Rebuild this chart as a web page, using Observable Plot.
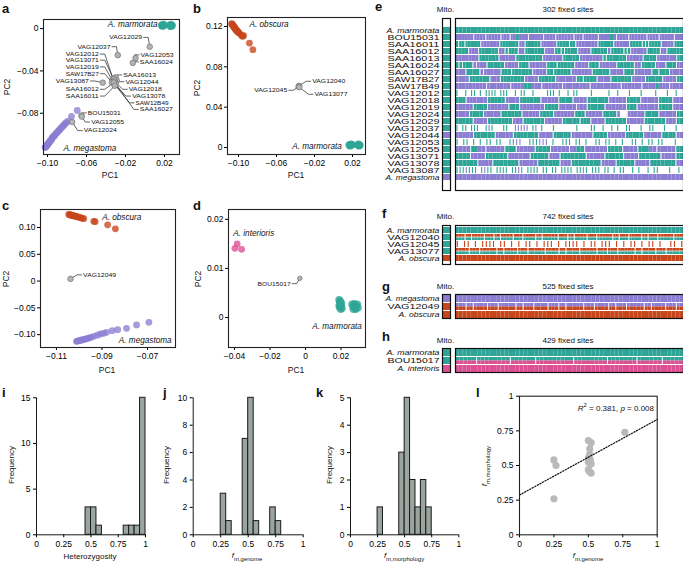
<!DOCTYPE html>
<html><head><meta charset="utf-8">
<script src="https://cdn.jsdelivr.net/npm/d3@7"></script>
<script src="https://cdn.jsdelivr.net/npm/@observablehq/plot@0.6"></script>
<style>
body{margin:0;background:#fff;font-family:"Liberation Sans",Arial,sans-serif;}
#fig{position:relative;width:683px;height:564px;overflow:hidden;background:#fff;}
.abs{position:absolute;white-space:nowrap;line-height:1;color:#111;}
.lett{font-weight:bold;font-size:13px;}
.ax{font-size:8.5px;}
.hd{font-size:8px;}
svg{overflow:visible;}
</style></head><body><div id="fig"></div><script>
// ---------------- DATA ----------------
const TEAL="#2ea596", PURP="#8a7dd2", ORNG="#c8461c", PINK="#dc4f93", GRAY="#b4b4b4";
// panel a
const aMarX=[0.0170,0.0176,0.0183,0.0189,0.0195,0.0180,0.0192,0.0186,0.0255,0.0261,0.0268,0.0274,0.0280,0.0264,0.0272,0.0258];
const aMarY=[0.0030,0.0036,0.0026,0.0033,0.0029,0.0022,0.0039,0.0031,0.0031,0.0037,0.0025,0.0033,0.0028,0.0021,0.0036,0.0027];
const aMegX=[-0.1025,-0.1020,-0.1015,-0.1010,-0.1005,-0.1000,-0.0995,-0.0990,-0.0985,-0.0980,-0.0975,-0.0970,-0.0960,-0.0955,-0.0950,-0.0940,-0.0930,-0.0920,-0.0910,-0.0900,-0.0890,-0.0880,-0.0870,-0.0860,-0.0850,-0.0840,-0.0830,-0.0820,-0.0810,-0.0790,-0.0754,-0.0695];
const aMegY=[-0.1125,-0.1120,-0.1115,-0.1110,-0.1105,-0.1095,-0.1090,-0.1085,-0.1080,-0.1070,-0.1065,-0.1060,-0.1050,-0.1040,-0.1030,-0.1020,-0.1015,-0.1000,-0.0990,-0.0980,-0.0970,-0.0960,-0.0950,-0.0940,-0.0930,-0.0920,-0.0910,-0.0900,-0.0890,-0.0875,-0.0829,-0.0774];
const aHybName=["VAG12029","VAG12053","SAA16024","VAG12037","VAG13087","SAA16013","VAG12044","VAG12018","VAG13078","SAW12B49","SAA16027","VAG12012","VAG13071","VAG12019","SAW17B27","SAA16012","SAA16011","BOU15031","VAG12055","VAG12024"];
const aHybX=[0.0049,-0.0097,-0.0125,-0.0279,-0.0433,-0.0300,-0.0290,-0.0310,-0.0320,-0.0310,-0.0300,-0.0330,-0.0320,-0.0330,-0.0340,-0.0320,-0.0310,-0.0651,-0.0648,-0.0747];
const aHybY=[-0.0171,-0.0279,-0.0324,-0.0251,-0.0511,-0.0460,-0.0490,-0.0500,-0.0520,-0.0530,-0.0520,-0.0470,-0.0480,-0.0500,-0.0510,-0.0510,-0.0540,-0.0822,-0.0832,-0.0883];
const aLabX=[-0.0029,-0.0046,-0.0053,-0.0354,-0.0576,-0.0224,-0.0200,-0.0166,-0.0131,-0.0097,-0.0053,-0.0474,-0.0474,-0.0474,-0.0474,-0.0474,-0.0474,-0.0587,-0.0552,-0.0628];
const aLabY=[-0.0083,-0.0248,-0.0314,-0.0171,-0.0495,-0.0438,-0.0502,-0.0574,-0.0638,-0.0702,-0.0764,-0.0241,-0.0298,-0.0362,-0.0426,-0.0574,-0.0638,-0.0797,-0.0883,-0.0964];
const aLabSide=["end","start","start","end","end","start","start","start","start","start","start","end","end","end","end","end","end","start","start","start"];
// panel b
const bObsX=[-0.1072,-0.1068,-0.1064,-0.1060,-0.1057,-0.1053,-0.1050,-0.1046,-0.1042,-0.1039,-0.1035,-0.1031,-0.1027,-0.1022,-0.1018,-0.1013,-0.1006,-0.0998,-0.0990,-0.0968,-0.0962,-0.0955,-0.0946,-0.0885,-0.0848];
const bObsY=[0.1228,0.1222,0.1218,0.1212,0.1208,0.1203,0.1198,0.1193,0.1188,0.1184,0.1178,0.1174,0.1168,0.1163,0.1158,0.1152,0.1146,0.1140,0.1132,0.1112,0.1106,0.1102,0.1110,0.1035,0.0970];
const bMarX=[0.0163,0.0170,0.0177,0.0184,0.0190,0.0195,0.0174,0.0187,0.0255,0.0261,0.0267,0.0273,0.0280,0.0264,0.0270];
const bMarY=[0.0024,0.0030,0.0020,0.0027,0.0022,0.0030,0.0016,0.0034,0.0024,0.0030,0.0019,0.0027,0.0022,0.0033,0.0016];
const bHybName=["VAG12040","VAG12045","VAG13077"];
const bHybX=[-0.0362,-0.0368,-0.0360]; const bHybY=[0.0612,0.0603,0.0598];
const bLabX=[-0.0224,-0.0487,-0.0200]; const bLabY=[0.0657,0.0568,0.0528];
const bLabSide=["start","end","start"];
// panel c
const cObsX=[-0.1046,-0.1042,-0.1038,-0.1034,-0.1030,-0.1026,-0.1022,-0.1018,-0.1013,-0.1008,-0.1003,-0.0998,-0.0992,-0.0986,-0.0980,-0.0936,-0.0930,-0.0875,-0.0841];
const cObsY=[0.1243,0.1238,0.1234,0.1229,0.1225,0.1221,0.1216,0.1212,0.1206,0.1200,0.1194,0.1188,0.1180,0.1172,0.1164,0.1115,0.1108,0.1050,0.0976];
const cMegX=[-0.1012,-0.1008,-0.1003,-0.0998,-0.0993,-0.0987,-0.0982,-0.0975,-0.0968,-0.0962,-0.0955,-0.0948,-0.0936,-0.0920,-0.0907,-0.0893,-0.0880,-0.0855,-0.0831,-0.0792,-0.0748,-0.0694];
const cMegY=[-0.1125,-0.1120,-0.1115,-0.1110,-0.1105,-0.1099,-0.1092,-0.1085,-0.1078,-0.1069,-0.1060,-0.1050,-0.1032,-0.1010,-0.0987,-0.0975,-0.0957,-0.0925,-0.0907,-0.0882,-0.0819,-0.0770];
const cHybName=["VAG12049"]; const cHybX=[-0.1038]; const cHybY=[0.0041];
const cLabX=[-0.0983]; const cLabY=[0.0116]; const cLabSide=["start"];
// panel d
const dIntX=[-0.0385,-0.0398,-0.0360]; const dIntY=[0.0150,0.0141,0.0139];
const dMarX=[0.0189,0.0193,0.0197,0.0201,0.0205,0.0192,0.0199,0.0203,0.0195,0.0190,0.0262,0.0268,0.0274,0.0280,0.0286,0.0292,0.0296,0.0270,0.0283,0.0277];
const dMarY=[0.0036,0.0031,0.0026,0.0022,0.0019,0.0021,0.0017,0.0029,0.0034,0.0025,0.0027,0.0022,0.0028,0.0019,0.0024,0.0027,0.0020,0.0017,0.0017,0.0025];
const dHybName=["BOU15017"]; const dHybX=[-0.0032]; const dHybY=[0.0080];
const dLabX=[-0.0084]; const dLabY=[0.0069]; const dLabSide=["end"];
// species labels per panel: [text, x, y, anchor]
const spA=[["A. marmorata",0.0128,0.0038,"end"],["A. megastoma",-0.0836,-0.1130,"start"]];
const spB=[["A. obscura",-0.0884,0.1220,"start"],["A. marmorata",-0.0435,0.0008,"start"]];
const spC=[["A. obscura",-0.0899,0.1193,"start"],["A. megastoma",-0.0826,-0.1099,"start"]];
const spD=[["A. interioris",-0.0407,0.0171,"start"],["A. marmorata",0.0038,-0.0018,"start"]];
// heat maps (each character = a block of sites; T teal, P purple, O orange, K pink,
// A = upper/lower two-tone block, . white (missing), lowercase = thin tick on white, | = white gap)
const eSites=302;
const eRows=["A. marmorata","BOU15031","SAA16011","SAA16012","SAA16013","SAA16024","SAA16027","SAW17B27","SAW17B49","VAG12012","VAG12018","VAG12019","VAG12024","VAG12029","VAG12037","VAG12044","VAG12053","VAG12055","VAG13071","VAG13078","VAG13087","A. megastoma"];
const eMito="TTTTTTTTTTTTTTTPTTTTTP";
const eGeno=[
"TTTTTTTTTTTTTTTTTTTTTTTTTTTTTTTTTTTTTTTTTTTTTTTTTTTTTTTTTTTT",
"PPPPPP|PPPP|PPPPP|PPP|PPTPPP|PPPPP|PPPP|PPPPPP|PPP|PPPPP|PPPPTP|PPPP|PPPPPP|PPPP|PPPPP|PPP",
"T|TT|TTTTT|PPPPPP|TTTTTT|PP|TTTTT|PPPPP|TTTT|TT|PPPPPPP|TTTTT|PPPPP|TTTT|T|T|TTTT|PPPP|TTT",
"TTTT|PPP|TTTTTT|PP|T|TTT|PP|TTTTTT|PPP|TT|T|TTTT|PPPP|TTTTT|P|TTTT|T|T|PPPPP|TTTT|PP|TTTTT",
"PPPPPPP|TTTTTT|PPPPP|TTTTTTTT|PPPPPP|TTTTT|PPPPPPP|T|TTTTTT|PPPPP|TTTT|PPPPPP|TT",
"T|T|TTT|P|PPP|TTTTT|PPPP|TTT|PPPPP|TTT|TTTTT|PPPP|TTT|PPPPP|TTTTT|PP|TTTT|PPP|TTT|PP",
"PPP|TTTT|P|PPPPP|TTT|TTTTTT|PPPP|TT|TTTTT|PPPPPP|TTTTT|PPPP|TTT|PPPPP|TT|TTT|PPPP",
"PPPP|TTTTTT|PPP|TTTTTTT|PPPP|TTTTT|PPPPPP|TT|TTTT|PPPP|TTTTTT|PPPP|TTTTT|PPPP|TT",
"PPPPPPPPP|PPPPPPP|PPPPTTPPP|PPPPPP|PPPPPPPP|PPPPPPPPP|PPPPPP|PPPPTPPP|PPPP",
"t..t.tt.t.tttt.ttt..t.tt..t....ttt.t..t.tt....t.....t..t...t...t....t...t..t..",
"TTT|PPPPPP|TTTTT|PPPP|TTTTTT|PPPPP|TTTT|PPPP|TTTTTT|PPPPP|TTTT|PPPPP|TTTT|PPP",
"PPPPP|TTTT|PPPPPP|TTT|PPPPPPP|TTTT|PPPPP|PPP|TTTTT|PPPPPP|TTT|PPPPPP|TTTT|PPP",
"PPPP|TTTT|PPPPP|TTTTTT|PPPPP|TTTT|PPPPPP|TTT|PPPPP|TTTT|P..|PPPPP|TTTT|PPPPP|TT",
"TTTTT|PPPP|TTTTTTT|PPP|TTTTTT|PPPPP|TTTTT|TTT|PPPP|TTTTTT|PPPPP|TTTTTT|PPP|TT",
"t.tt.ttt..tpt...tt..ppppp.tp.t...t.......t....tt..t..t.t..tt...t..tt...t...t..",
"PPPPP|TTTTTT|PPPPP|TTTTTTT|PPPP|TTTTT|PPPPPP|TTTT|PPPPP|TTTTT|PPPPP|TTTT|PP",
"t.tt.t.t.tt.tt..ttpp..tttppp.t..ttt.tt.t..tt.tt.t.t..tt.t.tt.tt...t..",
"PPPP|TTPP|PPPPP|TTT|PPPPP|TTTT|PPPPP|PPTT|PPPPPP|TTTT|PPPP|TTTPP|PPPPP|TT",
"TTTT|PPPP|TTTTTT|PPPPPP|TTTTT|PPP|TTTTTTT|PPPPP|TTTTT|PPPP|TTTTTT|PPPP|TT",
"TTTTTT|PPPP|TTTTTTT|PPPPP|TTTTTT|PPP|TTTTTTTT|PPPP|TTTTT|PPPP|TTTTTTT|PP",
"tttpttt.tptt.tttt.ttpt.tttt.tt.tt.tttt.ttpt.ttt.tt.t.tt..t.t..t.tt...t..t.",
"PPPPPPPPPPPPPPPPPPPPPPPPPPPPPPPPPPPPPPPPPPPPPPPPPPPPPPPPPPPP"];
const fSites=742;
const fRows=["A. marmorata","VAG12040","VAG12045","VAG13077","A. obscura"];
const fMito="TTTTO";
const fGeno=[
"TTTTTTTTTTTTTTTTTTTTTTTTTTTTTTTTTTTTTTTTTTTTTTTTTTTTTTTTTTTT",
"AAA|AA|AAAA|AAA|AA|AAAA|AAA|AAAA|AA|AAAAA|AAA|AA|AAAA|AAA|AAAAA|AA|AAA|AAAA|AA|AAA|AAAAA|AAA",
"o.oo.o.oooo.oo.o.o.oo.o.ooo.o.oooo.o.oo.ooo.o.o.oo.o.oo.o..oo.o",
"AAAA|AAA|AAAAA|AA|AAAA|AAA|AAAAA|AAAA|AA|AAAA|AAAAA|AAA|AAA|AAAAA|AA|AAAA|AAA|AAAAA",
"OOOOOOOOOOOOOOOOOOOOOOOOOOOOOOOOOOOOOOOOOOOOOOOOOOOOOOOOOOOO"];
const gSites=525;
const gRows=["A. megastoma","VAG12049","A. obscura"];
const gMito="POO";
const gGeno=[
"PPPPPPPPPPPPPPPPPPPPPPPPPPPPPPPPPPPPPPPPPPPPPPPPPPPPPPPPPPPP",
"AAA|AA|AAAA|AAA|AAAAA|AA|AAA|AAAA|AAA|AA|AAAAA|AAA|AAAA|AA|AAA|AAAAA|AA|AAAA|AAA|AA",
"OOOOOOOOOOOOOOOOOOOOOOOOOOOOOOOOOOOOOOOOOOOOOOOOOOOOOOOOOOOO"];
const hSites=429;
const hRows=["A. marmorata","BOU15017","A. interioris"];
const hMito="TTK";
const hGeno=[
"TTTTTTTTTTTTTTTTTTTTTTTTTTTTTTTTTTTTTTTTTTTTTTTTTTTTTTTTTTTT",
"AAAAA|AAAAAAAA|AAAAAA|AAAAAAAAA|AAAAAAAA|AAAAAAA|AAAAAA|AAAAA",
"KKKKKKKKKKKKKKKKKKKKKKKKKKKKKKKKKKKKKKKKKKKKKKKKKKKKKKKKKKKK"];
// widths (px) the row labels span in the reference
const labelWidth={"A. marmorata":53,"A. megastoma":54,"A. obscura":41,"A. interioris":42};
const idWidth=52, pcaIdWidth=33;
// histograms
const hetBin=[0.45,0.50,0.55,0.80,0.85,0.90,0.95]; const hetCount=[3,3,1,1,1,1,15];
const fmgBin=[0.25,0.30,0.45,0.50,0.55,0.70,0.75]; const fmgCount=[3,1,7,10,1,2,1];
const fmmBin=[0.25,0.45,0.50,0.55,0.60,0.65,0.70]; const fmmCount=[1,3,5,2,1,2,1];
const binW=0.05;
// scatter l
const lX=[0.25,0.265,0.25,0.50,0.52,0.51,0.51,0.50,0.515,0.50,0.52,0.50,0.51,0.52,0.765];
const lY=[0.54,0.50,0.26,0.68,0.665,0.62,0.58,0.555,0.54,0.525,0.51,0.47,0.455,0.445,0.74];
const regX=[0,1]; const regY=[0.287,0.832];

// ---------------- HELPERS ----------------
const FONT='"Liberation Sans",Arial,sans-serif';
const fig=document.getElementById("fig");
function place(node,l,t){node.style.position="absolute";node.style.left=l+"px";node.style.top=t+"px";fig.appendChild(node);return node;}
function txt(html,l,t,cls,st){const d=document.createElement("div");d.className="abs "+(cls||"");d.innerHTML=html;d.style.left=l+"px";d.style.top=t+"px";if(st)Object.assign(d.style,st);fig.appendChild(d);return d;}
function ctext(html,cx,cy,cls){return txt(html,cx,cy,cls,{transform:"translate(-50%,-50%)"});}
function rtext(html,cx,cy,cls){return txt(html,cx,cy,cls,{transform:"translate(-50%,-50%) rotate(-90deg)"});}
function stretch(node,sel,w){node.querySelectorAll(sel).forEach(t=>{const ww=typeof w==="function"?w(t.textContent):w;t.setAttribute("textLength",ww);t.setAttribute("lengthAdjust","spacingAndGlyphs");});}
const f2=d=>d===0?"0":d3.format(".2f")(d);
const fs=d=>String(d);
const zip=(xs,ys)=>xs.map((x,i)=>({x,y:ys[i]}));

function pca(o){
  const [L,T,Wd,Hd]=o.box,[fx0,fy0,fx1,fy1]=o.frame;
  const ux=(o.xd[1]-o.xd[0])/(fx1-fx0);
  const hyb=o.hyb.map((n,i)=>({n,x:o.hx[i],y:o.hy[i],lx:o.lx[i],ly:o.ly[i],side:o.side[i]}));
  const leaders=[];
  hyb.forEach(h=>{const s=h.side==="end"?1:-1;
    leaders.push({n:h.n,x:h.lx+s*1.5*ux,y:h.ly},{n:h.n,x:h.lx+s*6*ux,y:h.ly},{n:h.n,x:h.x,y:h.y});});
  const p=Plot.plot({width:Wd,height:Hd,marginLeft:fx0-L,marginRight:L+Wd-fx1,marginTop:fy0-T,marginBottom:T+Hd-fy1,
    style:{fontFamily:FONT,fontSize:"8.5px",background:"transparent",overflow:"visible"},
    x:{domain:o.xd,label:null},y:{domain:o.yd,label:null},
    marks:[
      ...o.groups.map(g=>Plot.dot(g.data,{x:"x",y:"y",r:g.r||3.4,fill:g.c,fillOpacity:0.78,stroke:"none"})),
      Plot.line(leaders,{x:"x",y:"y",z:"n",stroke:"#222",strokeWidth:0.7}),
      Plot.dot(hyb,{x:"x",y:"y",r:o.hr||2.8,fill:GRAY,stroke:"#666",strokeWidth:0.6}),
      Plot.text(hyb.filter(h=>h.side==="end"),{x:"lx",y:"ly",text:"n",textAnchor:"end",fontSize:5.9,fill:"#111",className:"hid"}),
      Plot.text(hyb.filter(h=>h.side==="start"),{x:"lx",y:"ly",text:"n",textAnchor:"start",fontSize:5.9,fill:"#111",className:"hid"}),
      ...o.sp.map(s=>Plot.text([s],{x:d=>d[1],y:d=>d[2],text:d=>d[0],textAnchor:s[3],fontStyle:"italic",fontSize:8.2,fill:"#111"})),
      Plot.axisX({ticks:o.xt,tickFormat:f2,tickSize:3,tickPadding:2,label:null,fontSize:8.5}),
      Plot.axisY({ticks:o.yt,tickFormat:f2,tickSize:3,tickPadding:2,label:null,fontSize:8.5}),
      Plot.frame({stroke:"#222",strokeWidth:1.1})
    ]});
  stretch(p,".hid text",pcaIdWidth);
  place(p,L,T);
}

function hist(o){
  const [L,T,Wd,Hd]=o.box,[fx0,fy0,fx1,fy1]=o.frame;
  const bars=o.bins.map((b,i)=>({x1:b,x2:b+binW,y:o.counts[i]}));
  const p=Plot.plot({width:Wd,height:Hd,marginLeft:fx0-L,marginRight:L+Wd-fx1,marginTop:fy0-T,marginBottom:T+Hd-fy1,
    style:{fontFamily:FONT,fontSize:"8.5px",background:"transparent",overflow:"visible"},
    x:{domain:[0,1],label:null},y:{domain:[0,o.ymax],label:null},
    marks:[
      Plot.rectY(bars,{x1:"x1",x2:"x2",y:"y",fill:"#9ba59f",stroke:"#1a1a1a",strokeWidth:1,insetLeft:0,insetRight:0}),
      Plot.ruleY([0],{stroke:"#1a1a1a",strokeWidth:1}),
      Plot.ruleX([0],{y1:0,y2:o.ymax,stroke:"#1a1a1a",strokeWidth:1}),
      Plot.axisX({ticks:[0,0.25,0.5,0.75,1],tickFormat:fs,tickSize:3,tickPadding:3,label:null,fontSize:8.5}),
      Plot.axisY({ticks:o.yt,tickFormat:fs,tickSize:3,tickPadding:3,label:null,fontSize:8.5})
    ]});
  place(p,L,T);
}

const colorOf={T:TEAL,P:PURP,O:ORNG,K:PINK,t:TEAL,p:PURP,o:ORNG,k:PINK};
function heat(o){
  const nR=o.rows.length, gx0=455, gx1=683, gy0=o.top, gy1=o.bottom;
  const pad=0.13, rowH=(gy1-gy0)/nR, bw=rowH*(1-pad);
  const full=[],top=[],bot=[],ticks=[],gaps=[];
  o.geno.forEach((s,r)=>{
    const row=o.rows[r]; let n=0; for(const ch of s) if(ch!=="|") n++;
    let i=0;
    for(const ch of s){
      if(ch==="|"){gaps.push({row,x:i/n*o.sites});continue;}
      const x1=i/n*o.sites,x2=(i+1)/n*o.sites;
      if("TPOK".includes(ch)) full.push({row,x1,x2,c:colorOf[ch]});
      else if(ch==="A"){top.push({row,x1,x2,c:o.upper});bot.push({row,x1,x2,c:o.lower});}
      else if(ch!=="."){ticks.push({row,x:(x1+x2)/2,c:colorOf[ch]});}
      i++;
    }
  });
  const yopt={type:"band",domain:o.rows,paddingInner:pad,paddingOuter:pad/2,axis:null};
  const grid=Plot.plot({width:gx1-gx0,height:gy1-gy0,margin:0,style:{background:"#fff",overflow:"visible"},
    x:{domain:[0,o.sites],axis:null},y:yopt,
    marks:[
      Plot.barX(full,{x1:"x1",x2:"x2",y:"row",fill:"c"}),
      Plot.barX(top,{x1:"x1",x2:"x2",y:"row",fill:"c",insetBottom:bw/2}),
      Plot.barX(bot,{x1:"x1",x2:"x2",y:"row",fill:"c",insetTop:bw/2}),
      Plot.tickX(ticks,{x:"x",y:"row",stroke:"c",strokeWidth:1.1}),
      Plot.tickX(gaps,{x:"x",y:"row",stroke:"#fff",strokeWidth:0.9}),
      Plot.frame({stroke:"#111",strokeWidth:1.2})
    ]});
  place(grid,gx0,gy0);
  const mito=Plot.plot({width:8,height:gy1-gy0,margin:0,style:{background:"#fff",overflow:"visible"},
    x:{domain:[0,1],axis:null},y:yopt,
    marks:[Plot.barX(o.rows.map((r,i)=>({row:r,c:colorOf[o.mito[i]]})),{x1:0,x2:1,y:"row",fill:"c"}),
      Plot.frame({stroke:"#111",strokeWidth:1.2})]});
  place(mito,441.5,gy0);
  const labs=Plot.plot({width:60,height:gy1-gy0,margin:0,style:{background:"transparent",overflow:"visible",fontFamily:FONT},
    x:{domain:[0,1],axis:null},y:yopt,
    marks:[
      Plot.text(o.rows.filter(r=>r.startsWith("A. ")),{x:1,y:d=>d,text:d=>d,textAnchor:"end",fontStyle:"italic",fontSize:6.9,fill:"#111",className:"spn"}),
      Plot.text(o.rows.filter(r=>!r.startsWith("A. ")),{x:1,y:d=>d,text:d=>d,textAnchor:"end",fontSize:6.9,fill:"#111",className:"sid"})
    ]});
  stretch(labs,".sid text",idWidth);
  stretch(labs,".spn text",s=>labelWidth[s]);
  place(labs,379,gy0);
  ctext("Mito.",445.5,o.ty,"hd");
  ctext(o.sites+" fixed sites",568,o.ty,"hd");
}

// ---------------- PANELS ----------------
pca({box:[0,0,185,180],frame:[43,19,179,154],xd:[-0.1041,0.0354],yd:[-0.119,0.0086],xt:[-0.10,-0.06,-0.02,0.02],yt:[-0.08,-0.04,0],
  groups:[{data:zip(aMarX,aMarY),c:TEAL,r:3.6},{data:zip(aMegX,aMegY),c:PURP,r:3.4}],
  hyb:aHybName,hx:aHybX,hy:aHybY,lx:aLabX,ly:aLabY,side:aLabSide,sp:spA});
pca({box:[185,0,185,180],frame:[227,17,365,154],xd:[-0.1116,0.0337],yd:[-0.0069,0.1289],xt:[-0.10,-0.06,-0.02,0.02],yt:[0,0.04,0.08,0.12],
  groups:[{data:zip(bMarX,bMarY),c:TEAL,r:3.6},{data:zip(bObsX,bObsY),c:ORNG,r:3.4}],
  hyb:bHybName,hx:bHybX,hy:bHybY,lx:bLabX,ly:bLabY,side:bLabSide,sp:spB});
pca({box:[0,195,185,180],frame:[40,209,175,347],xd:[-0.117,-0.0577],yd:[-0.124,0.1336],xt:[-0.11,-0.09,-0.07],yt:[-0.10,-0.05,0,0.05,0.10],
  groups:[{data:zip(cObsX,cObsY),c:ORNG,r:3.4},{data:zip(cMegX,cMegY),c:PURP,r:3.4}],
  hyb:cHybName,hx:cHybX,hy:cHybY,lx:cLabX,ly:cLabY,side:cLabSide,sp:spC});
pca({box:[185,195,185,180],frame:[228,209,365,347],xd:[-0.0434,0.0338],yd:[-0.0061,0.0220],xt:[-0.04,-0.02,0,0.02],yt:[0,0.01,0.02],
  groups:[{data:zip(dMarX,dMarY),c:TEAL,r:3.8},{data:zip(dIntX,dIntY),c:PINK,r:3.4}],
  hyb:dHybName,hx:dHybX,hy:dHybY,lx:dLabX,ly:dLabY,side:dLabSide,sp:spD,hr:2.3});

heat({rows:eRows,geno:eGeno,mito:eMito,sites:eSites,top:18,bottom:190,ty:10,upper:TEAL,lower:PURP});
heat({rows:fRows,geno:fGeno,mito:fMito,sites:fSites,top:225,bottom:264,ty:217,upper:ORNG,lower:TEAL});
heat({rows:gRows,geno:gGeno,mito:gMito,sites:gSites,top:294,bottom:318,ty:287,upper:PURP,lower:ORNG});
heat({rows:hRows,geno:hGeno,mito:hMito,sites:hSites,top:348,bottom:372,ty:341,upper:TEAL,lower:PINK});

hist({box:[0,385,150,170],frame:[36,397.3,145,534.3],bins:hetBin,counts:hetCount,ymax:15,yt:[0,5,10,15]});
hist({box:[175,385,135,170],frame:[192.7,397.3,302.7,534.3],bins:fmgBin,counts:fmgCount,ymax:10,yt:[0,2,4,6,8,10]});
hist({box:[330,385,135,170],frame:[350,397.3,458.3,534.3],bins:fmmBin,counts:fmmCount,ymax:5,yt:[0,1,2,3,4,5]});

// panel l
(function(){
  const L=495,T=385,Wd=170,Hd=170,fx0=519,fy0=395.7,fx1=656.7,fy1=534.3;
  const p=Plot.plot({width:Wd,height:Hd,marginLeft:fx0-L,marginRight:L+Wd-fx1,marginTop:fy0-T,marginBottom:T+Hd-fy1,
    style:{fontFamily:FONT,fontSize:"8.5px",background:"transparent",overflow:"visible"},
    x:{domain:[0,1],label:null},y:{domain:[0,1],label:null},
    marks:[
      Plot.dot(zip(lX,lY),{x:"x",y:"y",r:3.6,fill:"#b9b9b9",stroke:"none"}),
      Plot.line(zip(regX,regY),{x:"x",y:"y",stroke:"#111",strokeWidth:1.2,strokeDasharray:"1.3,1.6"}),
      Plot.axisX({ticks:[0,0.25,0.5,0.75,1],tickFormat:fs,tickSize:3,tickPadding:3,label:null,fontSize:8.5}),
      Plot.axisY({ticks:[0,0.25,0.5,0.75,1],tickFormat:fs,tickSize:3,tickPadding:3,label:null,fontSize:8.5}),
      Plot.frame({stroke:"#222",strokeWidth:1.1})
    ]});
  place(p,L,T);
})();

// ---------------- TEXT ----------------
[["a",2,2],["b",193,2],["c",2,199],["d",193,199],["e",375,0],["f",382,207],["g",382,280],["h",382,330],["i",2,386],["j",163,386],["k",316,386],["l",476,386]]
  .forEach(([s,x,y])=>txt(s,x,y,"lett"));
ctext("PC1",110,175,"ax"); rtext("PC2",7,87,"ax");
ctext("PC1",296,175,"ax"); rtext("PC2",197,88,"ax");
ctext("PC1",107,370,"ax"); rtext("PC2",6,279,"ax");
ctext("PC1",296,370,"ax"); rtext("PC2",198,279,"ax");
ctext("Heterozygosity",90,557,"hd");
ctext("<i>f</i><sub style='font-size:6px'>m,genome</sub>",247,557,"hd");
ctext("<i>f</i><sub style='font-size:6px'>m,morphology</sub>",404,557,"hd");
ctext("<i>f</i><sub style='font-size:6px'>m,genome</sub>",588,557,"hd");
rtext("Frequency",12,465,"hd"); rtext("Frequency",167,465,"hd"); rtext("Frequency",330,465,"hd");
rtext("<i>f</i><sub style='font-size:6px'>m,morphology</sub>",486,466,"hd");
txt("<i>R</i><sup style='font-size:6px'>2</sup> = 0.381, <i>p</i> = 0.008",654,402,"hd",{transform:"translateX(-100%)"});
</script></body></html>
